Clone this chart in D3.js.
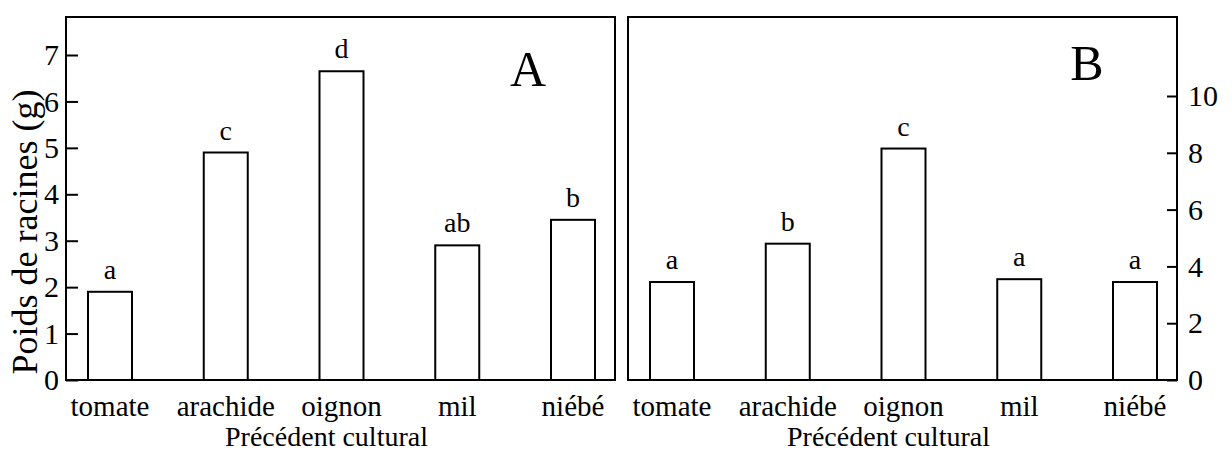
<!DOCTYPE html>
<html>
<head>
<meta charset="utf-8">
<script src="https://cdn.jsdelivr.net/npm/d3@7"></script>
<style>
  body { margin: 0; background: #fff; }
  svg { display: block; }
  text { font-family: "Liberation Serif", "Times New Roman", serif; fill: #000; }
</style>
</head>
<body>
<svg id="chart" width="1232" height="453"></svg>
<script>
// Previous crop (précédent cultural) and root weight per plant
const categories = ["tomate", "arachide", "oignon", "mil", "niébé"];
const valuesA = [1.9, 4.9, 6.65, 2.9, 3.45];
const lettersA = ["a", "c", "d", "ab", "b"];
const valuesB = [3.45, 4.8, 8.15, 3.55, 3.45];
const lettersB = ["a", "b", "c", "a", "a"];
const ticksA = [0, 1, 2, 3, 4, 5, 6, 7];
const ticksB = [0, 2, 4, 6, 8, 10];

const svg = d3.select("#chart");
const frameTop = 17, frameBottom = 380, panelW = 549, barW = 44;

const yA = d3.scaleLinear().domain([0, 7]).range([frameBottom, 55]);
const yB = d3.scaleLinear().domain([0, 10]).range([frameBottom, 96]);
const x = d3.scalePoint().domain(categories).range([44, 507]);

const panels = [
  { x0: 66, y: yA, values: valuesA, letters: lettersA, tag: "A", tagX: 462, tagY: 86 },
  { x0: 628, y: yB, values: valuesB, letters: lettersB, tag: "B", tagX: 459, tagY: 80 }
];

panels.forEach(p => {
  const g = svg.append("g").attr("transform", `translate(${p.x0},0)`);
  const rows = categories.map((c, i) => ({ c, v: p.values[i], l: p.letters[i] }));

  // bars
  g.selectAll("rect.bar")
    .data(rows)
    .join("rect")
    .attr("class", "bar")
    .attr("x", d => x(d.c) - barW / 2)
    .attr("y", d => p.y(d.v))
    .attr("width", barW)
    .attr("height", d => frameBottom - p.y(d.v))
    .attr("fill", "#fff")
    .attr("stroke", "#000")
    .attr("stroke-width", 2);

  // significance letters
  g.selectAll("text.sig")
    .data(rows)
    .join("text")
    .attr("class", "sig")
    .attr("x", d => x(d.c))
    .attr("y", d => p.y(d.v) - 13)
    .attr("text-anchor", "middle")
    .attr("font-size", 28)
    .text(d => d.l);

  // frame
  g.append("rect")
    .attr("x", 0).attr("y", frameTop)
    .attr("width", panelW).attr("height", frameBottom - frameTop)
    .attr("fill", "none").attr("stroke", "#000").attr("stroke-width", 2);

  // category labels
  g.selectAll("text.cat")
    .data(categories)
    .join("text")
    .attr("class", "cat")
    .attr("x", d => x(d))
    .attr("y", 416)
    .attr("text-anchor", "middle")
    .attr("font-size", 29)
    .text(d => d);

  // axis title
  g.append("text")
    .attr("x", panelW / 2 - 14)
    .attr("y", 446)
    .attr("text-anchor", "middle")
    .attr("font-size", 28)
    .text("Précédent cultural");

  // panel letter
  g.append("text")
    .attr("x", p.tagX).attr("y", p.tagY)
    .attr("text-anchor", "middle")
    .attr("font-size", 50)
    .text(p.tag);
});

// left axis (panel A)
const axA = svg.append("g")
  .attr("transform", "translate(66,0)")
  .call(d3.axisLeft(yA).tickValues(ticksA).tickFormat(d3.format("d"))
    .tickSizeInner(-12).tickSizeOuter(0).tickPadding(7));
axA.select(".domain").remove();
axA.selectAll("line").attr("stroke-width", 2);
axA.selectAll("text").attr("font-size", 30).attr("font-family", "Liberation Serif, serif");

// right axis (panel B)
const axB = svg.append("g")
  .attr("transform", `translate(${628 + panelW},0)`)
  .call(d3.axisRight(yB).tickValues(ticksB).tickFormat(d3.format("d"))
    .tickSizeInner(-10).tickSizeOuter(0).tickPadding(11));
axB.select(".domain").remove();
axB.selectAll("line").attr("stroke-width", 2);
axB.selectAll("text").attr("font-size", 30).attr("font-family", "Liberation Serif, serif");

// y axis title
svg.append("text")
  .attr("transform", "translate(37,232) rotate(-90)")
  .attr("text-anchor", "middle")
  .attr("font-size", 36)
  .text("Poids de racines (g)");
</script>
</body>
</html>
